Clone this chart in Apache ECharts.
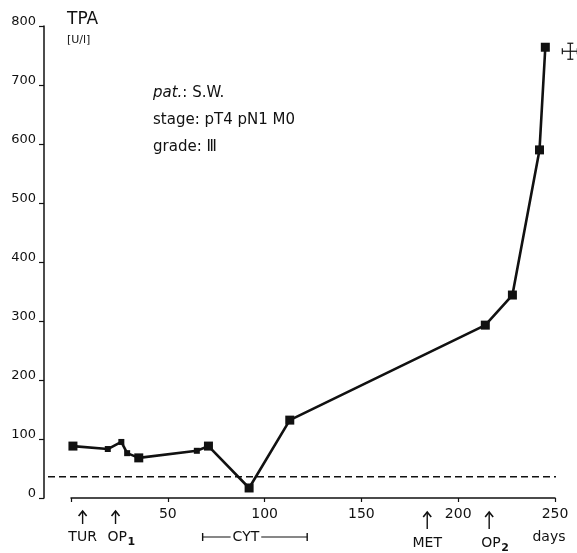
<!DOCTYPE html>
<html>
<head>
<meta charset="utf-8">
<script src="https://cdn.jsdelivr.net/npm/echarts@6/dist/echarts.min.js"></script>
<style>
  html, body { margin: 0; padding: 0; background: #fff; }
  #chart { width: 577px; height: 553px; }
</style>
</head>
<body>
<div id="chart"></div>
<script>
// Serum TPA course for one patient (days after first admission)
const days = [1, 19, 26, 29, 35, 65, 71, 92, 113, 214, 228, 242, 245];
const tpa  = [88, 83, 95, 76, 68, 80, 88, 17, 132, 293, 344, 590, 764];

// Upper limit of normal (dashed reference)
const cutoff = 36;

// Axis ticks
const yTicks = [0, 100, 200, 300, 400, 500, 600, 700, 800];
const xTicks = [0, 50, 100, 150, 200, 250];

// Clinical events on the time axis
const eventNames = ['TUR', 'OP1', 'MET', 'OP2'];
const eventDays  = [6, 23, 184, 216];
const cytStart = 68, cytEnd = 122;

// Patient notes
const noteLines = ['pat.: S.W.', 'stage: pT4 pN1 M0', 'grade: Ⅲ'];

// Points taken between the main visits are drawn with smaller squares
const minorPoints = [1, 2, 3, 5];

const FONT = '"DejaVu Sans", sans-serif';
const INK = '#111';
const Y_OFFSET = 27;

const chart = echarts.init(document.getElementById('chart'), null, { renderer: 'canvas' });

chart.setOption({
  animation: false,
  backgroundColor: '#fff',
  grid: { left: 71, right: 22, top: 26, bottom: 55, containLabel: false },
  xAxis: {
    type: 'value',
    min: xTicks[0], max: xTicks[xTicks.length - 1], interval: 50,
    axisLine: { show: true, onZero: false, lineStyle: { color: INK, width: 1.5 } },
    axisTick: { show: true, length: 4, inside: false, lineStyle: { color: INK, width: 1.2 } },
    splitLine: { show: false },
    axisLabel: {
      color: INK, fontFamily: FONT, fontSize: 14, margin: 9,
      formatter: v => (v === 0 ? '' : String(v))
    }
  },
  yAxis: {
    type: 'value',
    min: yTicks[0], max: yTicks[yTicks.length - 1], interval: 100,
    offset: Y_OFFSET,
    axisLine: { show: true, onZero: false, lineStyle: { color: INK, width: 1.5 } },
    axisTick: { show: true, length: 5, inside: false, lineStyle: { color: INK, width: 1.2 } },
    splitLine: { show: false },
    axisLabel: {
      color: INK, fontFamily: FONT, fontSize: 13, margin: 8,
      verticalAlign: 'bottom', padding: [0, 0, -2, 0]
    }
  },
  series: [{
    type: 'line',
    data: days.map((d, i) => [d, tpa[i]]),
    symbol: 'rect',
    symbolSize: (val, p) => (minorPoints.includes(p.dataIndex) ? 6 : 9),
    showAllSymbol: true,
    lineStyle: { color: INK, width: 2.6 },
    itemStyle: { color: INK },
    z: 3
  }]
});

// Annotations placed through the axis scales
const px = d => chart.convertToPixel({ xAxisIndex: 0 }, d);
const py = v => chart.convertToPixel({ yAxisIndex: 0 }, v);

const yAxisX = px(0) - Y_OFFSET;
const baseY = py(0);
const g = [];
const stroke = { stroke: INK, lineWidth: 1.4 };
const txt = (text, x, y, size, extra) => ({
  type: 'text', silent: true, x, y,
  style: Object.assign({ text, fontFamily: FONT, fontSize: size, fill: INK, align: 'center', verticalAlign: 'middle' }, extra || {})
});

// dashed normal limit
g.push({
  type: 'line', silent: true,
  shape: { x1: yAxisX + 4, y1: py(cutoff), x2: px(250) + 1, y2: py(cutoff) },
  style: { stroke: INK, lineWidth: 1.3, lineDash: [7, 4] }
});

// event arrows and labels
eventNames.forEach((name, i) => {
  const x = px(eventDays[i]);
  const late = eventDays[i] > 150;
  const top = baseY + (late ? 14 : 13);
  const bottom = top + (late ? 17 : 13);
  g.push({ type: 'line', silent: true, shape: { x1: x, y1: top, x2: x, y2: bottom }, style: stroke });
  g.push({ type: 'polyline', silent: true, shape: { points: [[x - 4, top + 5], [x, top], [x + 4, top + 5]] }, style: { stroke: INK, lineWidth: 1.6, fill: null } });
  const labelY = late ? baseY + 45 : baseY + 39;
  const sub = name.match(/^(OP)(\d)$/);
  if (sub) {
    g.push(txt(sub[1], x - 8, labelY, 14, { align: 'left' }));
    g.push(txt(sub[2], x + 12, labelY + 5, 11, { align: 'left', fontWeight: 'bold' }));
  } else {
    g.push(txt(name, x, labelY, 14));
  }
});

// cytostatic therapy interval
const cy = baseY + 39;
const c1 = px(cytStart), c2 = px(cytEnd);
g.push({ type: 'line', silent: true, shape: { x1: c1, y1: cy, x2: c2, y2: cy }, style: { stroke: INK, lineWidth: 1.1 } });
g.push({ type: 'line', silent: true, shape: { x1: c1, y1: cy - 4, x2: c1, y2: cy + 4 }, style: stroke });
g.push({ type: 'line', silent: true, shape: { x1: c2, y1: cy - 4, x2: c2, y2: cy + 4 }, style: stroke });
g.push(txt('CYT', (c1 + c2) / 2 - 9, cy, 14, { backgroundColor: '#fff', padding: [0, 2] }));

// axis unit labels
g.push(txt('days', px(250) - 6, baseY + 39, 14));
g.push(txt('TPA', 67, 20, 17, { align: 'left' }));
g.push(txt('[U/l]', 67, 40, 11, { align: 'left' }));

// patient notes
noteLines.forEach((line, i) => {
  const m = line.match(/^(pat\.)(.*)$/);
  g.push({
    type: 'text', silent: true, x: 153, y: 93 + i * 27,
    style: {
      text: m ? '{i|' + m[1] + '}{n|' + m[2] + '}' : line,
      rich: {
        i: { fontFamily: FONT, fontSize: 15, fontStyle: 'italic', fill: INK },
        n: { fontFamily: FONT, fontSize: 15, fill: INK }
      },
      fontFamily: FONT, fontSize: 15, fill: INK,
      align: 'left', verticalAlign: 'middle'
    }
  });
});

// cross marking death after the last value
const lx = px(days[days.length - 1]) + 25;
const ly = py(tpa[tpa.length - 1]) + 4;
[
  [lx - 8, ly, lx + 7, ly], [lx - 8, ly - 3, lx - 8, ly + 3], [lx + 7, ly - 3, lx + 7, ly + 3],
  [lx, ly - 8, lx, ly + 8], [lx - 3, ly - 8, lx + 3, ly - 8], [lx - 3, ly + 8, lx + 3, ly + 8]
].forEach(s => g.push({ type: 'line', silent: true, shape: { x1: s[0], y1: s[1], x2: s[2], y2: s[3] }, style: { stroke: INK, lineWidth: 1.2 } }));

chart.setOption({ graphic: g });
</script>
</body>
</html>
